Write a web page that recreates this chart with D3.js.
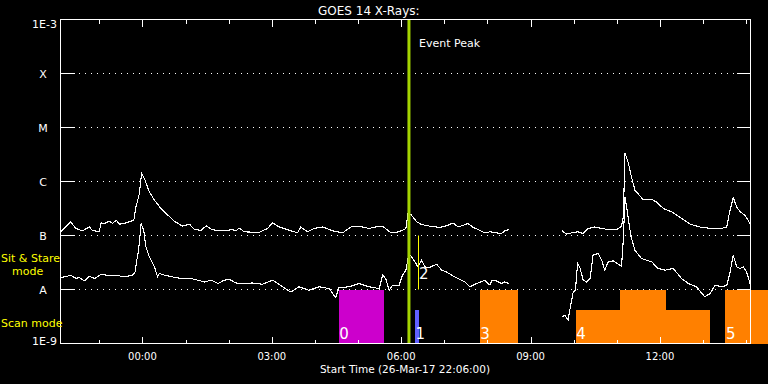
<!DOCTYPE html>
<html><head><meta charset="utf-8">
<script src="https://cdn.jsdelivr.net/npm/d3@7"></script>
<style>
html,body{margin:0;padding:0;background:#000;}
svg{display:block;}
text{font-family:"DejaVu Sans",sans-serif;fill:#fff;}
</style></head>
<body>
<svg id="chart" width="768" height="384"></svg>
<script>
// ---- data ----
const title = "GOES 14 X-Rays:";
const startLabel = "Start Time (26-Mar-17 22:06:00)";
const startTime = Date.UTC(2017, 2, 26, 22, 6, 0);
const spanHours = 16;
const yTickValues = [1e-9, 1e-8, 1e-7, 1e-6, 1e-5, 1e-4, 1e-3];
const yTickLabels = ["1E-9", "A", "B", "C", "M", "X", "1E-3"];

// long channel (1-8 A), hours since start, flux W/m^2 (null = gap)
const longHours = [0.00,0.23,0.36,0.51,0.67,0.75,0.90,0.94,1.02,1.13,1.21,1.29,1.37,1.48,1.70,1.75,1.83,1.88,1.96,2.06,2.18,2.33,2.49,2.64,2.83,2.99,3.11,3.26,3.38,3.49,3.65,3.88,3.96,4.07,4.14,4.26,4.60,4.80,4.92,5.07,5.30,5.50,5.57,5.73,5.88,6.08,6.31,6.54,6.77,7.00,7.16,7.31,7.47,7.66,7.85,8.01,8.06,8.14,8.26,8.37,8.56,8.80,8.99,9.10,9.22,9.34,9.45,9.57,9.72,9.84,9.96,10.11,10.23,10.30,10.40,11.0,11.63,11.74,11.85,12.00,12.12,12.24,12.39,12.55,12.70,12.90,13.01,13.05,13.09,13.16,13.24,13.32,13.51,13.71,13.82,13.98,14.17,14.40,14.60,14.87,15.10,15.33,15.45,15.50,15.60,15.68,15.76,15.87,15.99];
const longFlux = [1.17e-7,1.79e-7,1.35e-7,1.22e-7,1.44e-7,1.22e-7,1.20e-7,1.71e-7,1.67e-7,1.84e-7,1.67e-7,1.92e-7,1.62e-7,1.67e-7,1.92e-7,3.39e-7,6.0e-7,1.41e-6,1.06e-6,6.4e-7,4.5e-7,3.16e-7,2.38e-7,1.84e-7,1.49e-7,1.62e-7,1.29e-7,1.25e-7,1.51e-7,1.31e-7,1.22e-7,1.22e-7,1.31e-7,1.22e-7,1.38e-7,1.17e-7,1.14e-7,1.35e-7,1.71e-7,1.44e-7,1.25e-7,1.12e-7,1.44e-7,1.17e-7,1.35e-7,1.44e-7,1.22e-7,1.12e-7,1.49e-7,1.44e-7,1.35e-7,1.44e-7,1.49e-7,1.12e-7,1.17e-7,1.35e-7,2.62e-7,2.38e-7,1.79e-7,1.60e-7,1.49e-7,1.41e-7,1.55e-7,1.71e-7,1.44e-7,1.55e-7,1.67e-7,1.41e-7,1.25e-7,1.12e-7,1.17e-7,1.12e-7,1.09e-7,1.22e-7,1.29e-7,null,1.22e-7,1.06e-7,1.12e-7,1.17e-7,1.09e-7,1.35e-7,1.44e-7,1.35e-7,1.29e-7,1.29e-7,1.49e-7,2.21e-7,3.30e-6,2.31e-6,1.22e-6,6.9e-7,4.64e-7,4.64e-7,4.19e-7,3.16e-7,2.74e-7,2.07e-7,1.62e-7,1.41e-7,1.35e-7,1.35e-7,1.44e-7,2.38e-7,5.06e-7,3.39e-7,2.74e-7,2.38e-7,1.67e-7];

// short channel (0.5-4 A)
const shortHours = [0.00,0.09,0.24,0.36,0.44,0.55,0.67,0.79,0.94,1.09,1.29,1.48,1.67,1.73,1.77,1.81,1.87,1.93,1.98,2.06,2.18,2.25,2.29,2.41,2.60,2.80,3.03,3.18,3.34,3.49,3.65,3.80,3.92,4.07,4.22,4.45,4.68,4.92,5.15,5.34,5.53,5.76,6.00,6.23,6.38,6.46,6.69,6.92,7.16,7.39,7.47,7.54,7.62,7.70,7.85,7.93,8.01,8.08,8.14,8.22,8.29,8.37,8.45,8.56,8.72,8.84,8.95,9.07,9.22,9.38,9.49,9.65,9.84,9.96,10.00,10.11,10.23,10.30,10.40,11.0,11.63,11.70,11.77,11.81,11.89,11.94,11.99,12.04,12.12,12.20,12.28,12.35,12.47,12.55,12.62,12.70,12.82,12.93,13.01,13.05,13.09,13.15,13.23,13.32,13.47,13.71,13.86,14.02,14.21,14.40,14.56,14.75,14.94,15.06,15.18,15.33,15.45,15.52,15.60,15.68,15.76,15.83,15.91,15.99];
const shortFlux = [1.67e-8,1.71e-8,1.84e-8,1.60e-8,1.67e-8,1.44e-8,1.76e-8,1.60e-8,1.90e-8,1.84e-8,1.84e-8,1.71e-8,1.84e-8,2.12e-8,3.49e-8,5.35e-8,1.67e-7,1.25e-7,6.15e-8,4.02e-8,2.62e-8,1.71e-8,1.98e-8,1.84e-8,1.71e-8,1.60e-8,1.60e-8,1.49e-8,1.38e-8,1.49e-8,1.29e-8,1.49e-8,1.53e-8,1.32e-8,1.29e-8,1.32e-8,1.25e-8,1.49e-8,1.12e-8,9.0e-9,1.12e-8,9.7e-9,1.12e-8,1.04e-8,7.1e-9,1.09e-8,1.12e-8,1.29e-8,1.12e-8,1.04e-8,1.84e-8,1.60e-8,9.7e-9,1.20e-8,1.20e-8,1.84e-8,2.28e-8,4.64e-8,4.02e-8,3.24e-8,2.62e-8,3.49e-8,2.62e-8,2.56e-8,2.94e-8,2.28e-8,2.12e-8,1.84e-8,1.60e-8,1.38e-8,1.12e-8,1.29e-8,1.49e-8,1.20e-8,1.49e-8,1.44e-8,1.29e-8,1.38e-8,1.29e-8,null,3.11e-9,3.34e-9,2.70e-9,4.14e-9,9.0e-9,9.7e-9,3.03e-8,2.62e-8,1.49e-8,1.38e-8,1.60e-8,4.32e-8,4.64e-8,3.49e-8,2.28e-8,3.24e-8,3.39e-8,2.94e-8,2.70e-8,8.18e-8,5.19e-7,2.55e-7,9.4e-8,5.35e-8,3.75e-8,3.24e-8,2.45e-8,2.28e-8,2.45e-8,1.60e-8,1.29e-8,1.12e-8,7.3e-9,8.4e-9,1.20e-8,1.12e-8,1.20e-8,1.98e-8,4.32e-8,2.62e-8,2.45e-8,2.62e-8,2.12e-8,1.29e-8];

// observation windows
const obsLabel = ["0", "1", "3", "4", "", "", "5"];
const obsMode  = ["sit", "raster", "scan", "scan", "scan", "scan", "scan"];
const obsStart = [6.45, 8.22, 9.72, 11.95, 12.97, 14.04, 15.42];
const obsEnd   = [7.49, 8.31, 10.62, 12.97, 14.04, 15.06, 16.40];
const obsTop   = [1e-8, 4.14e-9, 1e-8, 4.14e-9, 1e-8, 4.14e-9, 1e-8];
const sitStareLabel = ["2"];
const sitStareHour = [8.29];
const sitStareRange = [1e-8, 1e-7];
const eventPeakHour = 8.08;

// ---- drawing ----
const svg = d3.select("#chart");
const W = 768, H = 384;
svg.append("rect").attr("width", W).attr("height", H).attr("fill", "#000");

const L = 60.5, R = 750.5, T = 19.5, B = 343.5;
const toDate = h => new Date(startTime + h * 3600e3);
const x = d3.scaleUtc().domain([toDate(0), toDate(spanHours)]).range([L, R]);
const y = d3.scaleLog().domain([1e-9, 1e-3]).range([B, T]);

const modeColor = {sit: "#cc00cc", raster: "#6060ff", scan: "#ff8000"};

// observation bars
const obs = obsStart.map((s, i) => ({s, e: obsEnd[i], top: obsTop[i], mode: obsMode[i], label: obsLabel[i]}));
svg.append("g").selectAll("rect").data(obs).join("rect")
  .attr("x", d => x(toDate(d.s)))
  .attr("width", d => x(toDate(d.e)) - x(toDate(d.s)))
  .attr("y", d => y(d.top))
  .attr("height", d => B - y(d.top))
  .attr("fill", d => modeColor[d.mode])
  .attr("shape-rendering", "crispEdges");

// dotted gridlines
const gridVals = yTickValues.slice(1, -1);
svg.append("g").selectAll("line").data(gridVals).join("line")
  .attr("x1", L + 18).attr("x2", R - 14)
  .attr("y1", d => y(d)).attr("y2", d => y(d))
  .attr("stroke", "#fff").attr("stroke-width", 1)
  .attr("stroke-dasharray", "1,5")
  .attr("shape-rendering", "crispEdges");

// curves
const line = d3.line()
  .defined(d => d[1] != null)
  .x(d => x(toDate(d[0])))
  .y(d => y(d[1]));
const longData = longHours.map((h, i) => [h, longFlux[i]]);
const shortData = shortHours.map((h, i) => [h, shortFlux[i]]);
[longData, shortData].forEach(data => {
  svg.append("path").datum(data).attr("d", line)
    .attr("fill", "none").attr("stroke", "#fff").attr("stroke-width", 1.1)
    .attr("shape-rendering", "crispEdges");
});

// sit & stare marker
sitStareHour.forEach((h, i) => {
  svg.append("line")
    .attr("x1", Math.round(x(toDate(h))) + 0.5).attr("x2", Math.round(x(toDate(h))) + 0.5)
    .attr("y1", y(sitStareRange[1])).attr("y2", y(sitStareRange[0]))
    .attr("stroke", "#ffff00").attr("stroke-width", 1);
  svg.append("text").attr("x", x(toDate(h)) + 1).attr("y", 279)
    .attr("font-size", 15).text(sitStareLabel[i]);
});

// obs labels
svg.append("g").selectAll("text").data(obs.filter(d => d.label)).join("text")
  .attr("x", d => x(toDate(d.s)) + 0.5)
  .attr("y", 339)
  .attr("font-size", 15)
  .text(d => d.label);

// event peak line
const xp = x(toDate(eventPeakHour));
svg.append("line").attr("x1", xp).attr("x2", xp).attr("y1", T).attr("y2", B)
  .attr("stroke", "#a4d400").attr("stroke-width", 3);
svg.append("text").attr("x", xp + 10).attr("y", 47).attr("font-size", 11).text("Event Peak");

// frame
svg.append("rect").attr("x", L).attr("y", T).attr("width", R - L).attr("height", B - T)
  .attr("fill", "none").attr("stroke", "#fff").attr("stroke-width", 1)
  .attr("shape-rendering", "crispEdges");

// y ticks (left and right, inward)
const yt = svg.append("g").attr("stroke", "#fff").attr("shape-rendering", "crispEdges");
yTickValues.forEach(v => {
  yt.append("line").attr("x1", L).attr("x2", L + 14).attr("y1", y(v)).attr("y2", y(v));
  yt.append("line").attr("x1", R - 14).attr("x2", R).attr("y1", y(v)).attr("y2", y(v));
});

// y labels
yTickValues.forEach((v, i) => {
  const lab = yTickLabels[i];
  const isNum = lab.length > 1;
  let yy = y(v) + 4;
  if (i === 0) yy = y(v) + 1;
  if (i === yTickValues.length - 1) yy = y(v) + 8;
  svg.append("text")
    .attr("x", isNum ? 57 : 43)
    .attr("y", yy)
    .attr("text-anchor", isNum ? "end" : "middle")
    .attr("font-size", 11)
    .text(lab);
});

// x ticks (top and bottom) via d3 axes
const hourTicks = d3.utcHour.range(toDate(0), toDate(spanHours));
const major = hourTicks.filter(d => d.getUTCHours() % 3 === 0);
const minor = hourTicks.filter(d => d.getUTCHours() % 3 !== 0);
function axisTicks(gen, vals, size, ty) {
  const g = svg.append("g").attr("transform", `translate(0,${ty})`)
    .call(gen(x).tickValues(vals).tickSize(size).tickFormat(""));
  g.select(".domain").remove();
  g.selectAll("line").attr("stroke", "#fff").attr("shape-rendering", "crispEdges");
  return g;
}
axisTicks(d3.axisBottom, major, -7, B);
axisTicks(d3.axisBottom, minor, -4, B);
axisTicks(d3.axisTop, major, -7, T);
axisTicks(d3.axisTop, minor, -4, T);

const fmt = d3.utcFormat("%H:%M");
svg.append("g").selectAll("text").data(major).join("text")
  .attr("x", d => x(d)).attr("y", 359.5)
  .attr("text-anchor", "middle").attr("font-size", 10)
  .text(d => fmt(d));

svg.append("text").attr("x", 405).attr("y", 373)
  .attr("text-anchor", "middle").attr("font-size", 10.5).text(startLabel);

svg.append("text").attr("x", 318).attr("y", 14.5).attr("font-size", 12).text(title);

// left side labels
svg.append("text").attr("x", 1).attr("y", 262).attr("font-size", 11).style("fill", "#ffff00").text("Sit & Stare");
svg.append("text").attr("x", 12).attr("y", 275).attr("font-size", 11).style("fill", "#ffff00").text("mode");
svg.append("text").attr("x", 1).attr("y", 327).attr("font-size", 11).style("fill", "#ffff00").text("Scan mode");
</script>
</body></html>
